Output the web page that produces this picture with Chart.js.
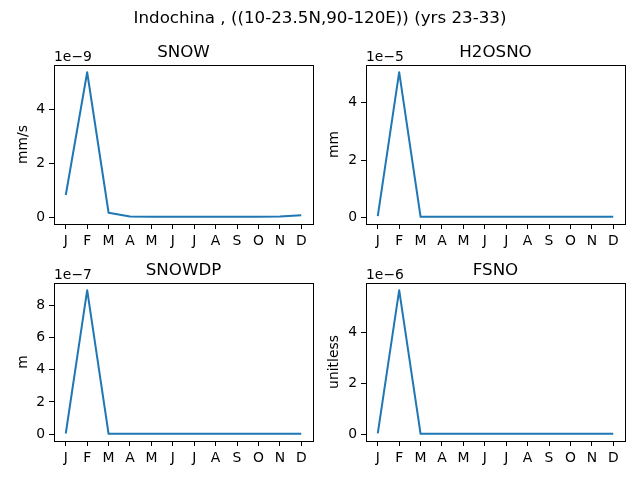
<!DOCTYPE html>
<html lang="en">
<head>
    <meta charset="UTF-8">
    <title>Indochina snow</title>
    <style>
        body {
            margin: 0;
            background: #fff;
        }
        .fig {
            position: relative;
            width: 640px;
            height: 480px;
            overflow: hidden;
        }
        .fig canvas {
            position: absolute;
        }
        .suptitle {
            position: absolute;
            left: 0;
            top: 7px;
            width: 640px;
            text-align: center;
            font-family: "DejaVu Sans", sans-serif;
            font-size: 16.7px;
            line-height: 20px;
            color: #000;
            z-index: 2;
        }
    </style>
    <script src="https://cdn.jsdelivr.net/npm/chart.js"></script>
</head>
<body>
    <div class="fig">
        <div class="suptitle">Indochina , ((10-23.5N,90-120E)) (yrs 23-33)</div>
        <canvas id="c-snow" width="320" height="260" style="left:0;top:0"></canvas>
        <canvas id="c-h2osno" width="320" height="260" style="left:320px;top:0"></canvas>
        <canvas id="c-snowdp" width="320" height="260" style="left:0;top:220px"></canvas>
        <canvas id="c-fsno" width="320" height="260" style="left:320px;top:220px"></canvas>
    </div>

    <script>
        // month tick labels
        const months = ['J', 'F', 'M', 'A', 'M', 'J', 'J', 'A', 'S', 'O', 'N', 'D'];

        // monthly values
        const snowVals   = [0.82e-9, 5.38e-9, 0.16e-9, 0.02e-9, 0.01e-9, 0.01e-9, 0.01e-9, 0.01e-9, 0.01e-9, 0.01e-9, 0.02e-9, 0.07e-9];
        const h2osnoVals = [0.04e-5, 5.07e-5, 0.02e-5, 0.02e-5, 0.02e-5, 0.02e-5, 0.02e-5, 0.02e-5, 0.02e-5, 0.02e-5, 0.02e-5, 0.02e-5];
        const snowdpVals = [0.05e-7, 8.92e-7, 0.03e-7, 0.03e-7, 0.03e-7, 0.03e-7, 0.03e-7, 0.03e-7, 0.03e-7, 0.03e-7, 0.03e-7, 0.03e-7];
        const fsnoVals   = [0.05e-6, 5.65e-6, 0.03e-6, 0.03e-6, 0.03e-6, 0.03e-6, 0.03e-6, 0.03e-6, 0.03e-6, 0.03e-6, 0.03e-6, 0.03e-6];

        const FONT = '"DejaVu Sans", sans-serif';

        // axes box inside each canvas (pixels)
        const panels = [
            { id: 'c-snow',   title: 'SNOW',   unit: 'mm/s',     vals: snowVals,   exp: -9, box: [54, 65, 313, 224], labelPad: 15 },
            { id: 'c-h2osno', title: 'H2OSNO', unit: 'mm',       vals: h2osnoVals, exp: -5, box: [46, 65, 305, 224], labelPad: 6.5 },
            { id: 'c-snowdp', title: 'SNOWDP', unit: 'm',        vals: snowdpVals, exp: -7, box: [54, 63, 313, 221], labelPad: 15 },
            { id: 'c-fsno',   title: 'FSNO',   unit: 'unitless', vals: fsnoVals,   exp: -6, box: [46, 63, 305, 221], labelPad: 6.5 }
        ];

        // frame, title and the "1e-9" offset label, drawn like matplotlib does
        const axesDecor = {
            id: 'axesDecor',
            afterDraw(chart, args, opts) {
                const a = chart.chartArea;
                const ctx = chart.ctx;
                ctx.save();
                ctx.strokeStyle = '#000';
                ctx.lineWidth = 1;
                ctx.strokeRect(Math.round(a.left) + 0.5, Math.round(a.top) + 0.5,
                    Math.round(a.right - a.left), Math.round(a.bottom - a.top));
                ctx.fillStyle = '#000';
                ctx.textBaseline = 'alphabetic';
                ctx.font = '16.7px ' + FONT;
                ctx.textAlign = 'center';
                ctx.fillText(opts.title, (a.left + a.right) / 2, a.top - 8);
                ctx.font = '13.9px ' + FONT;
                ctx.textAlign = 'left';
                ctx.fillText('1e\u2212' + (-opts.exp), a.left, a.top - 4.3);
                ctx.restore();
            }
        };

        panels.forEach(p => {
            const canvas = document.getElementById(p.id);
            const W = canvas.width, H = canvas.height;
            const [bl, bt, br, bb] = p.box;
            const xH = 30;
            const scale = Math.pow(10, p.exp);

            // matplotlib style 5% margins
            const lo = Math.min(...p.vals), hi = Math.max(...p.vals);
            const pad = (hi - lo) * 0.05;

            new Chart(canvas, {
                type: 'line',
                data: {
                    datasets: [{
                        data: p.vals.map((v, i) => ({ x: i, y: v })),
                        borderColor: '#1f77b4',
                        borderWidth: 2,
                        borderJoinStyle: 'round',
                        pointRadius: 0,
                        tension: 0,
                        fill: false
                    }]
                },
                options: {
                    responsive: false,
                    animation: false,
                    layout: {
                        padding: { left: 0, top: bt, right: W - br, bottom: H - bb - xH }
                    },
                    plugins: {
                        legend: { display: false },
                        tooltip: { enabled: false },
                        axesDecor: { title: p.title, exp: p.exp }
                    },
                    scales: {
                        x: {
                            type: 'linear',
                            min: -0.55,
                            max: 11.55,
                            afterFit: s => { s.height = xH; },
                            border: { display: false },
                            grid: { drawOnChartArea: false, drawTicks: true, tickLength: 5, color: '#000', lineWidth: 1 },
                            ticks: {
                                stepSize: 1,
                                includeBounds: false,
                                autoSkip: false,
                                maxRotation: 0,
                                padding: 4,
                                color: '#000',
                                font: { family: FONT, size: 13.9 },
                                callback: v => months[v]
                            }
                        },
                        y: {
                            type: 'linear',
                            min: lo - pad,
                            max: hi + pad,
                            afterFit: s => { s.width = bl; },
                            border: { display: false },
                            grid: { drawOnChartArea: false, drawTicks: true, tickLength: 5, color: '#000', lineWidth: 1 },
                            title: {
                                display: true,
                                text: p.unit,
                                color: '#000',
                                font: { family: FONT, size: 13.9 },
                                padding: { top: p.labelPad, bottom: 0 }
                            },
                            ticks: {
                                stepSize: 2 * scale,
                                includeBounds: false,
                                padding: 4,
                                color: '#000',
                                font: { family: FONT, size: 13.9 },
                                callback: v => String(Math.round(v / scale * 1000) / 1000)
                            }
                        }
                    }
                },
                plugins: [axesDecor]
            });
        });
    </script>
</body>
</html>
